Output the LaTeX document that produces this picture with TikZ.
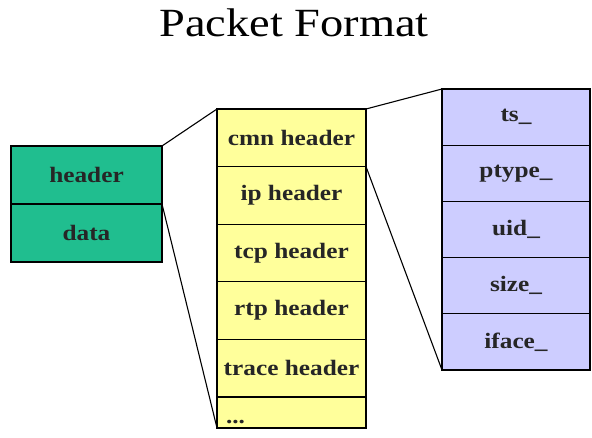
\documentclass[tikz,border=0pt]{standalone}
\usepackage{fontspec}
\usepackage{graphicx}
\setmainfont{Liberation Serif}
\usetikzlibrary{positioning}
\definecolor{pktgreen}{RGB}{32,190,143}
\definecolor{pktyellow}{RGB}{255,255,155}
\definecolor{pktblue}{RGB}{205,205,255}
\newcommand{\widetext}[1]{\scalebox{1.15}[1]{#1}}
\tikzset{
  field/.style={draw, line width=1.1pt, outer sep=0pt, inner sep=0pt,
    font=\fontsize{22}{24}\selectfont\bfseries, text=black!85},
  pktfield/.style={field, fill=pktgreen, minimum width=151pt, minimum height=58pt},
  hdrfield/.style={field, fill=pktyellow, minimum width=149pt, minimum height=57.6pt},
  cmnfield/.style={field, fill=pktblue, minimum width=148pt, minimum height=56.2pt},
  zoomline/.style={line width=1.1pt}
}

\begin{document}
\begin{tikzpicture}[x=1pt,y=1pt]
  \useasboundingbox (0,0) rectangle (592,438);

  \node [anchor=base,
    font=\fontsize{40}{44}\selectfont
  ] (title) at (294,401) {\scalebox{1.16}[1]{Packet Format}};

  % packet
  \node [pktfield] (header) at (86.5,263) {\widetext{header}};
  \node [pktfield, below=0pt of header] (data) {\widetext{data}};

  % headers
  \node [hdrfield] (cmn) at (291.5,300.2) {\widetext{cmn header}};
  \node [hdrfield, below=0pt of cmn] (ip) {\widetext{ip header}};
  \node [hdrfield, below=0pt of ip] (tcp) {\widetext{tcp header}};
  \node [hdrfield, below=0pt of tcp] (rtp) {\widetext{rtp header}};
  \node [hdrfield, below=0pt of rtp] (trace) {\widetext{trace header}};
  \node [hdrfield,
    minimum height=31pt,
    text width=131pt, inner xsep=9pt, align=left,
    text height=22pt, text depth=0pt,
    below=0pt of trace
  ] (more) {\widetext{...}};

  % common header
  \node [cmnfield] (ts) at (516,320.9) {\widetext{ts\_}};
  \node [cmnfield, below=0pt of ts] (ptype) {\widetext{ptype\_}};
  \node [cmnfield, below=0pt of ptype] (uid) {\widetext{uid\_}};
  \node [cmnfield, below=0pt of uid] (size) {\widetext{size\_}};
  \node [cmnfield, below=0pt of size] (iface) {\widetext{iface\_}};

  \draw[zoomline] (header.north east) -- (cmn.north west);
  \draw[zoomline] (header.south east) -- (more.south west);
  \draw[zoomline] (cmn.north east) -- (ts.north west);
  \draw[zoomline] (cmn.south east) -- (iface.south west);
\end{tikzpicture}
\end{document}
